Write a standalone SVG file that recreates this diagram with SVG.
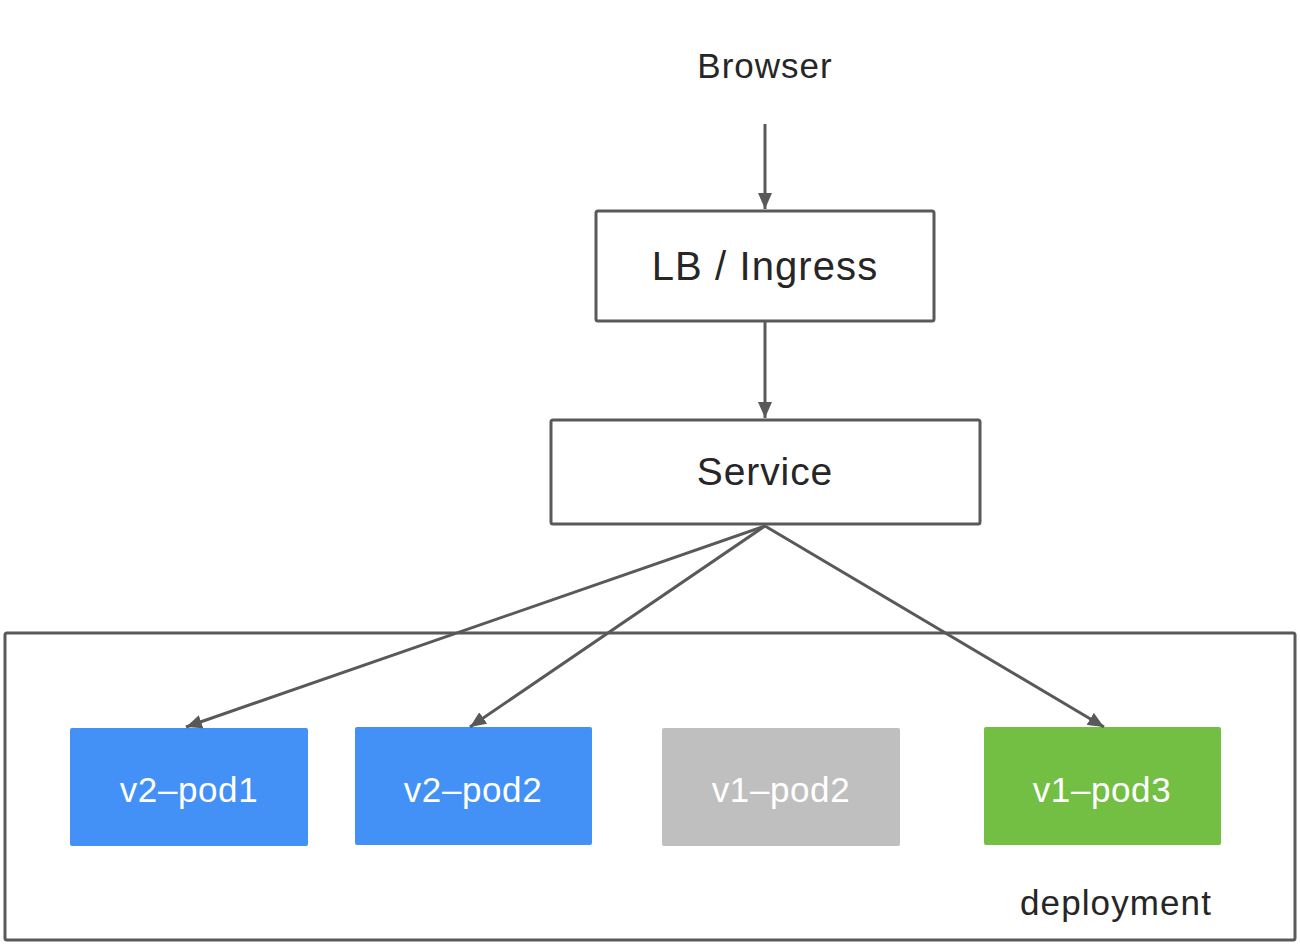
<svg xmlns="http://www.w3.org/2000/svg" width="1300" height="945" viewBox="0 0 1300 945">
<style>
.box{fill:#fff;stroke:#595959;stroke-width:3}
.lbl{font-family:"Liberation Sans",Arial,sans-serif;fill:#262626;text-anchor:middle}
.pod{font-family:"Liberation Sans",Arial,sans-serif;fill:#fff;text-anchor:middle;font-size:35px;letter-spacing:0.6px}
.edge{fill:none;stroke:#595959;stroke-width:3;marker-end:url(#arr)}
</style>
<defs>
<marker id="arr" markerUnits="userSpaceOnUse" markerWidth="16" markerHeight="14" viewBox="0 0 16 14" refX="16" refY="7" orient="auto">
<path d="M0,0 L16,7 L0,14 z" fill="#595959"/>
</marker>
</defs>
<rect width="1300" height="945" fill="#fff"/>
<g id="deployment">
<rect class="box" x="5" y="633" width="1290" height="307" rx="2" fill="none"/>
<text class="lbl" x="1116" y="915" font-size="35" letter-spacing="1.1">deployment</text>
</g>
<g id="browser">
<text class="lbl" x="765" y="78" font-size="35" letter-spacing="1">Browser</text>
</g>
<g id="lb">
<rect class="box" x="596" y="211" width="338" height="110" rx="2"/>
<text class="lbl" x="765" y="280" font-size="40" letter-spacing="1.1">LB / Ingress</text>
</g>
<g id="service">
<rect class="box" x="551" y="420" width="429" height="104" rx="2"/>
<text class="lbl" x="765" y="485" font-size="39" letter-spacing="0.9">Service</text>
</g>
<g id="v2-pod1">
<rect x="70" y="728" width="238" height="118" rx="2" fill="#4391f6"/>
<text class="pod" x="189" y="802">v2–pod1</text>
</g>
<g id="v2-pod2">
<rect x="355" y="727" width="237" height="118" rx="2" fill="#4391f6"/>
<text class="pod" x="473" y="802">v2–pod2</text>
</g>
<g id="v1-pod2">
<rect x="662" y="728" width="238" height="118" rx="2" fill="#bfbfbf"/>
<text class="pod" x="781" y="802">v1–pod2</text>
</g>
<g id="v1-pod3">
<rect x="984" y="727" width="237" height="118" rx="2" fill="#72bf44"/>
<text class="pod" x="1102" y="802">v1–pod3</text>
</g>
<g id="connectors">
<path class="edge" d="M765,124 L765,209"/>
<path class="edge" d="M765,322 L765,418"/>
<path class="edge" d="M765,526 L186,727"/>
<path class="edge" d="M765,526 L470,727"/>
<path class="edge" d="M765,526 L1104,727"/>
</g>
</svg>
